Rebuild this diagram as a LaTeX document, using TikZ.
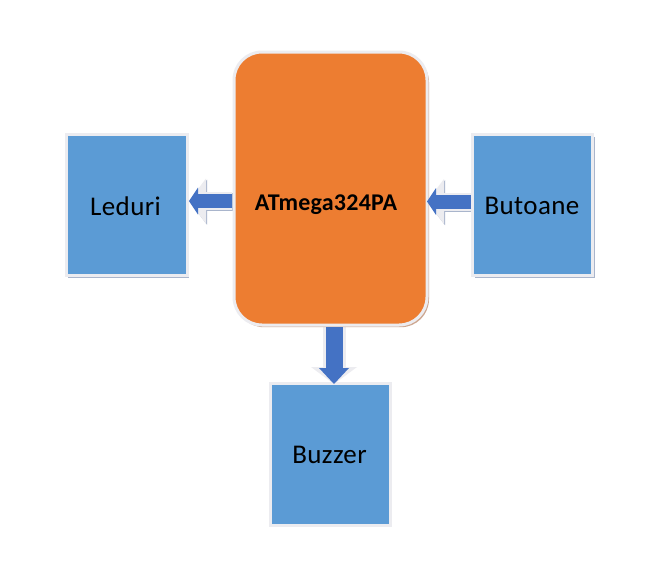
\documentclass[tikz,border=0pt]{standalone}
\usepackage{fontspec}
\setmainfont{Carlito}
\usetikzlibrary{arrows.meta,shadows}
\definecolor{boxblue}{HTML}{5B9BD5}
\definecolor{mcuorange}{HTML}{ED7D31}
\definecolor{arrowblue}{HTML}{4472C4}
\definecolor{rimwhite}{HTML}{ECECF0}
\definecolor{rimshade}{HTML}{A9B5CC}
\definecolor{mcushade}{HTML}{CDA68F}
\tikzset{
  x=1pt,y=-1pt,
  block/.style={fill=boxblue,draw=rimwhite,line width=3pt,inner sep=0pt,
    drop shadow={shadow xshift=2.2pt,shadow yshift=-2.2pt,fill=rimshade,opacity=1}},
  mcubox/.style={fill=mcuorange,draw=rimwhite,line width=3pt,rounded corners=28pt,inner sep=0pt,
    drop shadow={shadow xshift=2pt,shadow yshift=-2.2pt,fill=mcushade,opacity=1}},
  label text/.style={font=\fontsize{27}{32}\selectfont\addfontfeature{LetterSpace=1.5},text=black},
  arrowshade/.style={draw=rimshade,line width=18pt,-{Triangle[length=17pt,width=45pt,line width=0pt,fill=rimshade]}},
  arrowrim/.style={draw=rimwhite,line width=18pt,-{Triangle[length=17pt,width=45pt,line width=0pt,fill=rimwhite]}},
  arrowrimdown/.style={draw=rimwhite,line width=23pt,-{Triangle[length=17pt,width=46pt,line width=0pt,fill=rimwhite]}},
  arrowcore/.style={draw=arrowblue,line width=14pt,-{Triangle[length=9pt,width=27pt,line width=0pt,fill=arrowblue]}},
  arrowcoredown/.style={draw=arrowblue,line width=17pt,-{Triangle[length=16pt,width=30pt,line width=0pt,fill=arrowblue]}},
}
\begin{document}
\begin{tikzpicture}
\useasboundingbox (0,0) rectangle (664,574);
\fill[white] (0,0) rectangle (664,574);
% arrow anchors
\coordinate (ledS) at (232,201);
\coordinate (ledE) at (189,201);
\coordinate (butS) at (471,201.5);
\coordinate (butE) at (427,201.5);
\coordinate (buzS) at (334,327);
\coordinate (buzE) at (334,384);
% rims first
\draw[arrowshade,transform canvas={xshift=1pt,yshift=-1.2pt}] (ledS) -- (ledE);
\draw[arrowshade,transform canvas={xshift=1pt,yshift=-1.2pt}] (butS) -- (butE);
\draw[arrowrim] (ledS) -- (ledE);
\draw[arrowrim] (butS) -- (butE);
\draw[arrowrimdown] (buzS) -- (buzE);
% nodes
\node[block,minimum width=121pt,minimum height=141pt] (led) at (126.5,205) {};
\node[block,minimum width=120pt,minimum height=141pt] (but) at (532.5,205) {};
\node[block,minimum width=120pt,minimum height=142pt] (buz) at (330,454) {};
\node[mcubox,minimum width=193pt,minimum height=273pt] (mcu) at (330.5,188.5) {};
\node[label text] (ledt) at (125.5,206) {Leduri};
\node[label text] (butt) at (532,206) {Butoane};
\node[label text] (buzt) at (329.5,455) {Buzzer};
\node[font=\bfseries\fontsize{24}{28}\selectfont\addfontfeature{LetterSpace=1},text=black] (mcut) at (326,204.5) {ATmega324PA};
% arrow cores
\draw[arrowcore] (ledS) -- (ledE);
\draw[arrowcore] (butS) -- (butE);
\draw[arrowcoredown] (buzS) -- (buzE);
\end{tikzpicture}
\end{document}
